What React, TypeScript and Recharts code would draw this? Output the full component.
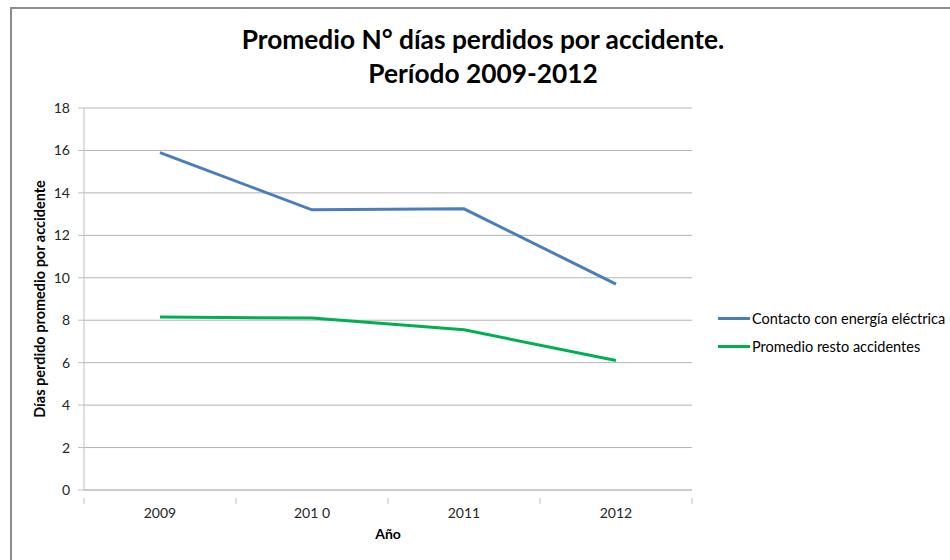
import React from 'react';
import { LineChart, Line, XAxis, YAxis, CartesianGrid, Label } from 'recharts';

const years = ['2009', '201 0', '2011', '2012'];
const contactoElectrico = [15.9, 13.2, 13.25, 9.7];
const restoAccidentes = [8.15, 8.1, 7.55, 6.1];
const yTicks = [0, 2, 4, 6, 8, 10, 12, 14, 16, 18];

const seriesNames = ['Contacto con energía eléctrica', 'Promedio resto accidentes'];
const seriesColors = ['#4a7ebb', '#00b050'];

const data = years.map((year, i) => ({
    year,
    contacto: contactoElectrico[i],
    resto: restoAccidentes[i],
}));

const FONT = 'Lato, "Open Sans", sans-serif';
const PLOT_LEFT = 72;
const PLOT_RIGHT = 680;
const HALF_BAND = (PLOT_RIGHT - PLOT_LEFT) / years.length / 2;

function YearTick(props: any) {
    const { x, y, payload, index } = props;
    const last = index === years.length - 1;
    return (
        <g>
            <line x1={x - HALF_BAND} y1={y} x2={x - HALF_BAND} y2={y + 6} stroke="#bfbfbf" />
            {last && <line x1={x + HALF_BAND} y1={y} x2={x + HALF_BAND} y2={y + 6} stroke="#bfbfbf" />}
            <text x={x} y={y + 20} textAnchor="middle" fontSize={14} fill="#262626" fontFamily={FONT}>
                {payload.value}
            </text>
        </g>
    );
}

export default function App() {
    return (
        <div style={{ position: 'fixed', left: 0, top: 0, width: 950, height: 560, overflow: 'hidden', background: '#fff' }}>
            <div
                style={{
                    position: 'absolute',
                    left: 10,
                    top: 7,
                    width: 960,
                    height: 570,
                    border: '2px solid #8c8c8c',
                    fontFamily: FONT,
                }}
            >
                <div
                    style={{
                        position: 'absolute',
                        left: 0,
                        top: 13,
                        width: 942,
                        textAlign: 'center',
                        fontWeight: 'bold',
                        fontSize: 26.3,
                        lineHeight: '34px',
                        color: '#000',
                    }}
                >
                    Promedio N° días perdidos por accidente.
                    <br />
                    Período 2009-2012
                </div>
                <LineChart
                    width={938}
                    height={551}
                    data={data}
                    margin={{ top: 99, right: 258, left: 0, bottom: 10 }}
                >
                    <CartesianGrid vertical={false} stroke="#b3b3b3" />
                    <XAxis
                        dataKey="year"
                        scale="band"
                        height={60}
                        stroke="#bfbfbf"
                        tickLine={false}
                        tick={<YearTick />}
                        interval={0}
                    >
                        <Label value="Año" position="center" dy={14} fontSize={14} fontWeight="bold" fill="#000" fontFamily={FONT} />
                    </XAxis>
                    <YAxis
                        width={72}
                        domain={[0, 18]}
                        ticks={yTicks}
                        interval={0}
                        stroke="#bfbfbf"
                        tickSize={6}
                        tickMargin={8}
                        tick={{ fontSize: 14, fill: '#262626', fontFamily: FONT }}
                    >
                        <Label
                            value="Días perdido promedio por accidente"
                            angle={-90}
                            position="center"
                            dx={-8}
                            fontSize={14.5}
                            fontWeight="bold"
                            fill="#000"
                            fontFamily={FONT}
                        />
                    </YAxis>
                    <Line
                        dataKey="contacto"
                        name={seriesNames[0]}
                        stroke={seriesColors[0]}
                        strokeWidth={3}
                        dot={false}
                        type="linear"
                        isAnimationActive={false}
                    />
                    <Line
                        dataKey="resto"
                        name={seriesNames[1]}
                        stroke={seriesColors[1]}
                        strokeWidth={3}
                        dot={false}
                        type="linear"
                        isAnimationActive={false}
                    />
                </LineChart>
                <div style={{ position: 'absolute', left: 706, top: 295 }}>
                    {seriesNames.map((name, i) => (
                        <div key={name} style={{ display: 'flex', alignItems: 'center', height: 28, fontSize: 14.5, color: '#000', whiteSpace: 'nowrap' }}>
                            <span style={{ display: 'inline-block', width: 32, height: 3, background: seriesColors[i], marginRight: 2 }} />
                            {name}
                        </div>
                    ))}
                </div>
            </div>
        </div>
    );
}
